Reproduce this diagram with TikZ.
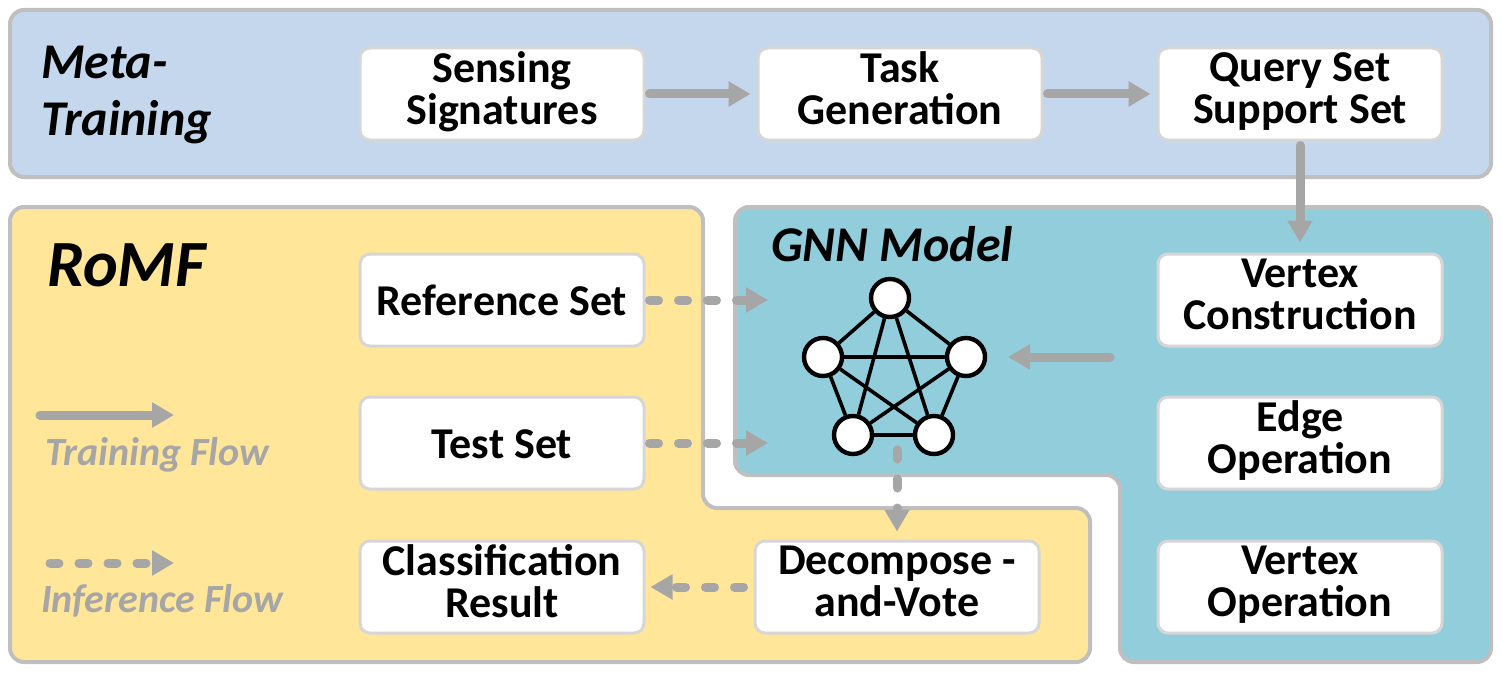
\documentclass[tikz,border=0pt]{standalone}
\usepackage{fontspec}
\setmainfont{Carlito}
\usetikzlibrary{arrows.meta}
\definecolor{metablue}{HTML}{C5D7EC}
\definecolor{romfyellow}{HTML}{FFE699}
\definecolor{gnnteal}{HTML}{92CDDC}
\definecolor{edgegray}{HTML}{BFBFBF}
\definecolor{boxgray}{HTML}{D6D6D6}
\definecolor{arrowgray}{HTML}{A6A6A6}

\begin{document}
\begin{tikzpicture}[x=0.5pt,y=-0.5pt,
  region/.style={draw=edgegray,line width=2pt,rounded corners=7pt},
  boxstyle/.style={draw=boxgray,line width=1.5pt,fill=white,rounded corners=5pt,
    minimum width=142pt,minimum height=46pt,align=center,inner sep=1pt,
    font=\bfseries\fontsize{22}{21}\selectfont,
    execute at begin node=\rule{0pt}{20.5pt},
    execute at end node=\rule[-5.5pt]{0pt}{5.5pt}},
  vertstyle/.style={circle,draw,line width=2.2pt,fill=white,minimum size=19pt,inner sep=0pt},
  flowstyle/.style={draw=arrowgray,line width=4.5pt,line cap=round,
    -{Triangle[length=11pt,width=12pt]}},
  dashflow/.style={flowstyle,dash pattern=on 4.5pt off 10pt},
  title/.style={anchor=west,align=left,font=\bfseries\itshape\fontsize{25}{28.5}\selectfont},
  legend/.style={anchor=west,text=arrowgray,font=\bfseries\itshape\fontsize{20}{22}\selectfont}]
  \useasboundingbox (0,0) rectangle (1502,674);

  % background regions
  \draw[region,fill=metablue] (10,10) rectangle (1491,177);
  \draw[region,fill=romfyellow] (10,207) -- (703,207) -- (703,508) -- (1090,508)
    -- (1090,662) -- (10,662) -- cycle;
  \draw[region,fill=gnnteal] (735,207) -- (1491,207) -- (1491,662) -- (1120,662)
    -- (1120,475) -- (735,475) -- cycle;

  % titles
  \node[title] (meta) at (34,95) {Meta-\\Training};
  \node[title,font=\bfseries\itshape\fontsize{33}{36}\selectfont] (romf) at (40,265) {RoMF};
  \node[title] (gnn) at (764,244) {GNN Model};

  % boxes
  \node[boxstyle] (sense) at (502,94) {Sensing\\Signatures};
  \node[boxstyle] (task) at (900,94) {Task\\Generation};
  \node[boxstyle] (query) at (1300,94) {Query Set\\Support Set};
  \node[boxstyle] (refset) at (502,300) {Reference Set};
  \node[boxstyle] (testset) at (502,443) {Test Set};
  \node[boxstyle] (classif) at (502,587) {Classification\\Result};
  \node[boxstyle] (decomp) at (897,587) {Decompose -\\and-Vote};
  \node[boxstyle] (vcons) at (1300,300) {Vertex\\Construction};
  \node[boxstyle] (edgeop) at (1300,443) {Edge\\Operation};
  \node[boxstyle] (vertop) at (1300,587) {Vertex\\Operation};

  % graph
  \foreach \n/\p in {a/{(890,298)},b/{(823,357)},c/{(966,357)},d/{(853,435)},e/{(934,435)}}
    \node[vertstyle] (\n) at \p {};
  \foreach \s/\t in {a/b,a/c,a/d,a/e,b/c,b/d,b/e,c/d,c/e,d/e}
    \draw[line width=1.8pt] (\s) -- (\t);

  % free ends
  \coordinate (refin) at (768,300);
  \coordinate (testin) at (768,443);
  \coordinate (vcout) at (1110,357);
  \coordinate (gin) at (1008,357);
  \coordinate (gout) at (897,450);
  \coordinate (tfa) at (40,415);
  \coordinate (tfb) at (174,415);
  \coordinate (ifa) at (50,563);
  \coordinate (ifb) at (174,563);

  % training flow
  \draw[flowstyle,shorten <=2pt,shorten >=3pt] (sense) -- (task);
  \draw[flowstyle,shorten <=2pt,shorten >=3pt] (task) -- (query);
  \draw[flowstyle,shorten <=2pt,shorten >=5pt] (query) -- (vcons);
  \draw[flowstyle] (vcout) -- (gin);

  % inference flow
  \draw[dashflow,shorten <=2pt] (refset) -- (refin);
  \draw[dashflow,shorten <=2pt] (testset) -- (testin);
  \draw[dashflow,shorten >=4pt] (gout) -- (decomp);
  \draw[dashflow,shorten <=5pt,shorten >=2.5pt] (decomp) -- (classif);

  % legend
  \draw[flowstyle] (tfa) -- (tfb);
  \node[legend] (tflabel) at (38,455) {Training Flow};
  \draw[dashflow] (ifa) -- (ifb);
  \node[legend] (iflabel) at (34,601) {Inference Flow};
\end{tikzpicture}
\end{document}
